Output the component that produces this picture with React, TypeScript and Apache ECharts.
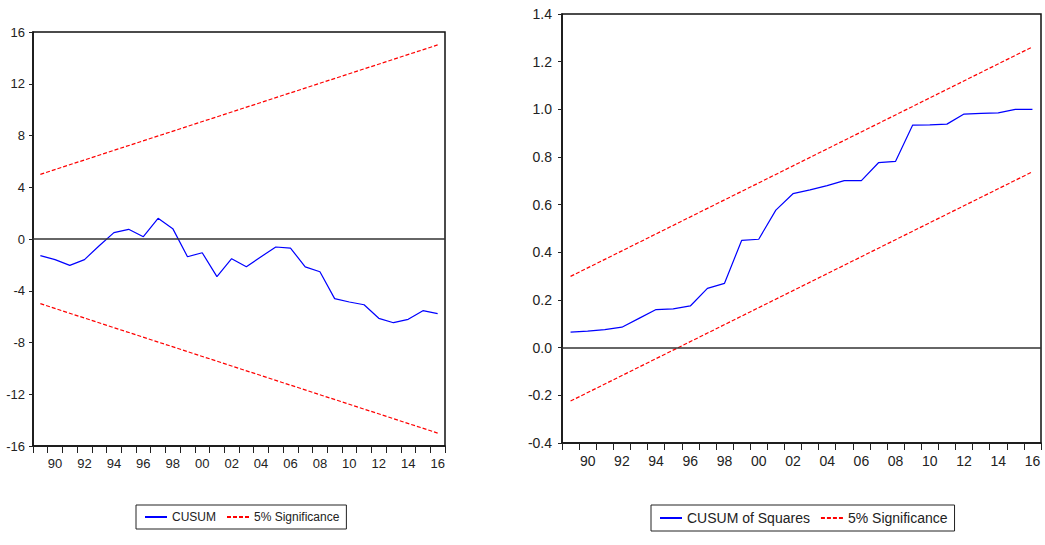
import React, { useEffect, useRef } from "react";
import * as echarts from "echarts";

const years = [
  "1989", "1990", "1991", "1992", "1993", "1994", "1995", "1996", "1997", "1998",
  "1999", "2000", "2001", "2002", "2003", "2004", "2005", "2006", "2007", "2008",
  "2009", "2010", "2011", "2012", "2013", "2014", "2015", "2016",
];

const cusum = [
  -1.28, -1.59, -2.04, -1.59, -0.52, 0.49, 0.75, 0.18, 1.6, 0.8,
  -1.37, -1.06, -2.91, -1.52, -2.14, -1.37, -0.62, -0.7, -2.16, -2.53,
  -4.61, -4.87, -5.08, -6.13, -6.47, -6.21, -5.54, -5.77,
];

const cusumUpper = [
  ["1989", 5.0],
  ["2016", 15.0],
];
const cusumLower = [
  ["1989", -5.0],
  ["2016", -15.0],
];

const cusumSq = [
  0.065, 0.069, 0.076, 0.086, 0.123, 0.16, 0.163, 0.175, 0.249, 0.27,
  0.45, 0.455, 0.577, 0.646, 0.662, 0.68, 0.701, 0.701, 0.776, 0.782,
  0.934, 0.935, 0.938, 0.98, 0.983, 0.985, 1.0, 1.0,
];

const sqUpper = [
  ["1989", 0.299],
  ["2016", 1.262],
];
const sqLower = [
  ["1989", -0.224],
  ["2016", 0.738],
];

const FONT = "'Liberation Sans', Arial, sans-serif";
const TEXT = "#222";

function xAxisFor(gridIndex: number, fontSize: number) {
  return {
    type: "category",
    gridIndex,
    data: years,
    boundaryGap: true,
    axisLine: { show: true, onZero: false, lineStyle: { color: "#111", width: 1.5 } },
    axisTick: { show: true, interval: 0, length: 7, inside: false, lineStyle: { color: "#222", width: 1 } },
    axisLabel: {
      interval: (index: number) => index % 2 === 1,
      formatter: (v: string) => v.slice(2),
      color: TEXT,
      fontFamily: FONT,
      fontSize,
      margin: 11,
    },
    splitLine: { show: false },
  };
}

function legendFor(names: string[], left: number, top: number, fontSize: number) {
  return {
    data: names,
    left,
    top,
    orient: "horizontal",
    borderColor: "#222",
    borderWidth: 1,
    padding: [6, 7, 6, 8],
    itemGap: 10,
    itemWidth: 22,
    itemHeight: 10,
    itemStyle: { opacity: 0, borderWidth: 0 },
    textStyle: { color: TEXT, fontFamily: FONT, fontSize },
    selectedMode: false,
  };
}

export default function App() {
  const ref = useRef<HTMLDivElement>(null);

  useEffect(() => {
    if (!ref.current) return;
    const chart = echarts.init(ref.current, undefined, { renderer: "svg" });

    const red = { color: "#ff0000", width: 1.2, type: [4, 2] as any };
    const blue = { color: "#0000ff", width: 1.2 };
    const zeroLine = {
      silent: true,
      symbol: "none",
      label: { show: false },
      lineStyle: { color: "#333", width: 1.5, type: "solid" },
      data: [{ yAxis: 0 }],
    };

    chart.setOption({
      animation: false,
      backgroundColor: "#fff",
      grid: [
        { left: 33, top: 32, right: 600, bottom: 99, show: true, borderColor: "#111", borderWidth: 1.5, backgroundColor: "transparent" },
        { left: 562, top: 14, right: 4, bottom: 102, show: true, borderColor: "#111", borderWidth: 1.5, backgroundColor: "transparent" },
      ],
      xAxis: [xAxisFor(0, 13), xAxisFor(1, 14)],
      yAxis: [
        {
          type: "value",
          gridIndex: 0,
          min: -16,
          max: 16,
          interval: 4,
          axisLine: { show: true, onZero: false, lineStyle: { color: "#111", width: 1.5 } },
          axisTick: { show: true, length: 4, lineStyle: { color: "#222" } },
          axisLabel: { color: TEXT, fontFamily: FONT, fontSize: 13, margin: 8 },
          splitLine: { show: false },
        },
        {
          type: "value",
          gridIndex: 1,
          min: -0.4,
          max: 1.4,
          interval: 0.2,
          axisLine: { show: true, onZero: false, lineStyle: { color: "#111", width: 1.5 } },
          axisTick: { show: true, length: 4, lineStyle: { color: "#222" } },
          axisLabel: {
            color: TEXT,
            fontFamily: FONT,
            fontSize: 14,
            margin: 10,
            formatter: (v: number) => v.toFixed(1),
          },
          splitLine: { show: false },
        },
      ],
      legend: [
        legendFor(["CUSUM", "5% Significance"], 136, 505, 12),
        legendFor(["CUSUM of Squares", "5% Significance"], 651, 505, 14),
      ],
      series: [
        {
          name: "CUSUM",
          type: "line",
          xAxisIndex: 0,
          yAxisIndex: 0,
          data: cusum,
          symbol: "none",
          lineStyle: blue,
          itemStyle: { color: "#0000ff" },
          markLine: zeroLine,
          z: 3,
        },
        {
          name: "5% Significance",
          type: "line",
          xAxisIndex: 0,
          yAxisIndex: 0,
          data: cusumUpper,
          symbol: "none",
          lineStyle: red,
          itemStyle: { color: "#ff0000" },
        },
        {
          name: "5% Significance",
          type: "line",
          xAxisIndex: 0,
          yAxisIndex: 0,
          data: cusumLower,
          symbol: "none",
          lineStyle: red,
          itemStyle: { color: "#ff0000" },
        },
        {
          name: "CUSUM of Squares",
          type: "line",
          xAxisIndex: 1,
          yAxisIndex: 1,
          data: cusumSq,
          symbol: "none",
          lineStyle: blue,
          itemStyle: { color: "#0000ff" },
          markLine: zeroLine,
          z: 3,
        },
        {
          name: "5% Significance",
          type: "line",
          xAxisIndex: 1,
          yAxisIndex: 1,
          data: sqUpper,
          symbol: "none",
          lineStyle: red,
          itemStyle: { color: "#ff0000" },
        },
        {
          name: "5% Significance",
          type: "line",
          xAxisIndex: 1,
          yAxisIndex: 1,
          data: sqLower,
          symbol: "none",
          lineStyle: red,
          itemStyle: { color: "#ff0000" },
        },
      ],
    });

    return () => chart.dispose();
  }, []);

  return (
    <div
      ref={ref}
      style={{ position: "absolute", left: 0, top: 0, width: 1045, height: 545, background: "#fff" }}
    />
  );
}
